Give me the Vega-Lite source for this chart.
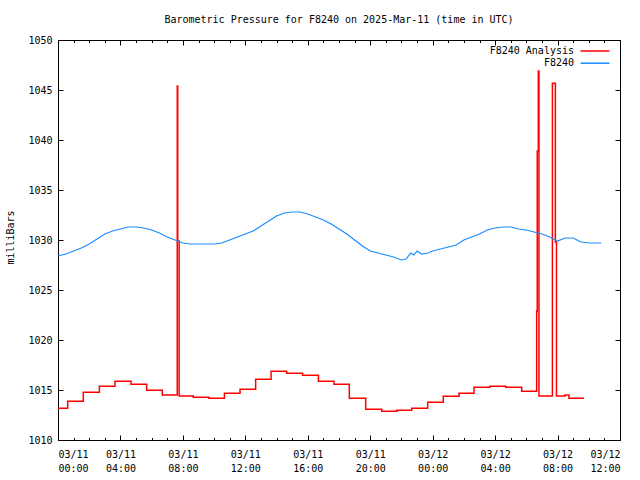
{
  "$schema": "https://vega.github.io/schema/vega-lite/v6.json",
  "width": 562,
  "height": 400,
  "autosize": {"type": "none"},
  "padding": {"left": 58, "top": 40, "right": 20, "bottom": 40},
  "background": "white",
  "title": {
    "text": "Barometric Pressure for F8240 on 2025-Mar-11 (time in UTC)",
    "font": "DejaVu Sans Mono",
    "fontSize": 10,
    "fontWeight": "normal",
    "color": "black",
    "anchor": "middle",
    "offset": 10
  },
  "config": {
    "view": {"stroke": "black", "strokeWidth": 1},
    "axis": {
      "labelFont": "DejaVu Sans Mono",
      "labelFontSize": 10,
      "labelColor": "black",
      "titleFont": "DejaVu Sans Mono",
      "titleFontSize": 10,
      "titleFontWeight": "normal",
      "titleColor": "black",
      "domainColor": "black",
      "tickColor": "black",
      "grid": false
    },
    "legend": {
      "labelFont": "DejaVu Sans Mono",
      "labelFontSize": 10,
      "labelColor": "black"
    }
  },
  "datasets": {
    "analysis": [
      {"h": 0, "p": 1013.17, "s": "F8240 Analysis"},
      {"h": 0.62, "p": 1013.87, "s": "F8240 Analysis"},
      {"h": 1.62, "p": 1014.77, "s": "F8240 Analysis"},
      {"h": 2.65, "p": 1015.37, "s": "F8240 Analysis"},
      {"h": 3.65, "p": 1015.87, "s": "F8240 Analysis"},
      {"h": 4.68, "p": 1015.57, "s": "F8240 Analysis"},
      {"h": 5.68, "p": 1014.97, "s": "F8240 Analysis"},
      {"h": 6.68, "p": 1014.5, "s": "F8240 Analysis"},
      {"h": 7.64, "p": 1045.4, "s": "F8240 Analysis"},
      {"h": 7.67, "p": 1029.9, "s": "F8240 Analysis"},
      {"h": 7.76, "p": 1014.4, "s": "F8240 Analysis"},
      {"h": 8.67, "p": 1014.27, "s": "F8240 Analysis"},
      {"h": 9.67, "p": 1014.17, "s": "F8240 Analysis"},
      {"h": 10.66, "p": 1014.67, "s": "F8240 Analysis"},
      {"h": 11.66, "p": 1015.07, "s": "F8240 Analysis"},
      {"h": 12.66, "p": 1016.07, "s": "F8240 Analysis"},
      {"h": 13.65, "p": 1016.87, "s": "F8240 Analysis"},
      {"h": 14.65, "p": 1016.67, "s": "F8240 Analysis"},
      {"h": 15.67, "p": 1016.47, "s": "F8240 Analysis"},
      {"h": 16.68, "p": 1015.87, "s": "F8240 Analysis"},
      {"h": 17.68, "p": 1015.57, "s": "F8240 Analysis"},
      {"h": 18.66, "p": 1014.17, "s": "F8240 Analysis"},
      {"h": 19.71, "p": 1013.07, "s": "F8240 Analysis"},
      {"h": 20.74, "p": 1012.87, "s": "F8240 Analysis"},
      {"h": 21.7, "p": 1012.97, "s": "F8240 Analysis"},
      {"h": 22.66, "p": 1013.17, "s": "F8240 Analysis"},
      {"h": 23.68, "p": 1013.77, "s": "F8240 Analysis"},
      {"h": 24.68, "p": 1014.37, "s": "F8240 Analysis"},
      {"h": 25.69, "p": 1014.67, "s": "F8240 Analysis"},
      {"h": 26.65, "p": 1015.27, "s": "F8240 Analysis"},
      {"h": 27.67, "p": 1015.37, "s": "F8240 Analysis"},
      {"h": 28.68, "p": 1015.27, "s": "F8240 Analysis"},
      {"h": 29.7, "p": 1014.87, "s": "F8240 Analysis"},
      {"h": 30.66, "p": 1022.9, "s": "F8240 Analysis"},
      {"h": 30.7, "p": 1038.9, "s": "F8240 Analysis"},
      {"h": 30.77, "p": 1046.9, "s": "F8240 Analysis"},
      {"h": 30.81, "p": 1014.4, "s": "F8240 Analysis"},
      {"h": 31.67, "p": 1045.67, "s": "F8240 Analysis"},
      {"h": 31.86, "p": 1029.8, "s": "F8240 Analysis"},
      {"h": 31.93, "p": 1014.4, "s": "F8240 Analysis"},
      {"h": 32.48, "p": 1014.5, "s": "F8240 Analysis"},
      {"h": 32.73, "p": 1014.17, "s": "F8240 Analysis"},
      {"h": 33.7, "p": 1014.17, "s": "F8240 Analysis"}
    ],
    "obs": [
      {"h": 0, "p": 1028.4, "s": "F8240"},
      {"h": 0.5, "p": 1028.6, "s": "F8240"},
      {"h": 1, "p": 1028.9, "s": "F8240"},
      {"h": 1.5, "p": 1029.2, "s": "F8240"},
      {"h": 2, "p": 1029.6, "s": "F8240"},
      {"h": 2.5, "p": 1030.1, "s": "F8240"},
      {"h": 3, "p": 1030.6, "s": "F8240"},
      {"h": 3.5, "p": 1030.9, "s": "F8240"},
      {"h": 4, "p": 1031.1, "s": "F8240"},
      {"h": 4.5, "p": 1031.3, "s": "F8240"},
      {"h": 5, "p": 1031.3, "s": "F8240"},
      {"h": 5.5, "p": 1031.2, "s": "F8240"},
      {"h": 6, "p": 1031.0, "s": "F8240"},
      {"h": 6.5, "p": 1030.7, "s": "F8240"},
      {"h": 7, "p": 1030.3, "s": "F8240"},
      {"h": 7.5, "p": 1030.0, "s": "F8240"},
      {"h": 8, "p": 1029.7, "s": "F8240"},
      {"h": 8.5, "p": 1029.6, "s": "F8240"},
      {"h": 9, "p": 1029.6, "s": "F8240"},
      {"h": 10, "p": 1029.6, "s": "F8240"},
      {"h": 10.5, "p": 1029.7, "s": "F8240"},
      {"h": 11, "p": 1030.0, "s": "F8240"},
      {"h": 11.5, "p": 1030.3, "s": "F8240"},
      {"h": 12, "p": 1030.6, "s": "F8240"},
      {"h": 12.5, "p": 1030.9, "s": "F8240"},
      {"h": 13, "p": 1031.4, "s": "F8240"},
      {"h": 13.5, "p": 1031.9, "s": "F8240"},
      {"h": 14, "p": 1032.4, "s": "F8240"},
      {"h": 14.5, "p": 1032.7, "s": "F8240"},
      {"h": 15, "p": 1032.8, "s": "F8240"},
      {"h": 15.5, "p": 1032.8, "s": "F8240"},
      {"h": 16, "p": 1032.6, "s": "F8240"},
      {"h": 16.5, "p": 1032.3, "s": "F8240"},
      {"h": 17, "p": 1032.0, "s": "F8240"},
      {"h": 17.5, "p": 1031.6, "s": "F8240"},
      {"h": 18, "p": 1031.1, "s": "F8240"},
      {"h": 18.5, "p": 1030.6, "s": "F8240"},
      {"h": 19, "p": 1030.0, "s": "F8240"},
      {"h": 19.5, "p": 1029.4, "s": "F8240"},
      {"h": 20, "p": 1028.9, "s": "F8240"},
      {"h": 20.5, "p": 1028.7, "s": "F8240"},
      {"h": 21, "p": 1028.5, "s": "F8240"},
      {"h": 21.5, "p": 1028.3, "s": "F8240"},
      {"h": 22, "p": 1028.0, "s": "F8240"},
      {"h": 22.3, "p": 1028.1, "s": "F8240"},
      {"h": 22.6, "p": 1028.7, "s": "F8240"},
      {"h": 22.8, "p": 1028.5, "s": "F8240"},
      {"h": 23, "p": 1028.9, "s": "F8240"},
      {"h": 23.3, "p": 1028.6, "s": "F8240"},
      {"h": 23.7, "p": 1028.7, "s": "F8240"},
      {"h": 24, "p": 1028.9, "s": "F8240"},
      {"h": 24.5, "p": 1029.1, "s": "F8240"},
      {"h": 25, "p": 1029.3, "s": "F8240"},
      {"h": 25.5, "p": 1029.5, "s": "F8240"},
      {"h": 26, "p": 1030.0, "s": "F8240"},
      {"h": 26.5, "p": 1030.3, "s": "F8240"},
      {"h": 27, "p": 1030.6, "s": "F8240"},
      {"h": 27.5, "p": 1031.0, "s": "F8240"},
      {"h": 28, "p": 1031.2, "s": "F8240"},
      {"h": 28.5, "p": 1031.3, "s": "F8240"},
      {"h": 29, "p": 1031.3, "s": "F8240"},
      {"h": 29.5, "p": 1031.1, "s": "F8240"},
      {"h": 30, "p": 1031.0, "s": "F8240"},
      {"h": 30.5, "p": 1030.8, "s": "F8240"},
      {"h": 31, "p": 1030.6, "s": "F8240"},
      {"h": 31.5, "p": 1030.3, "s": "F8240"},
      {"h": 32, "p": 1029.9, "s": "F8240"},
      {"h": 32.5, "p": 1030.2, "s": "F8240"},
      {"h": 33, "p": 1030.2, "s": "F8240"},
      {"h": 33.5, "p": 1029.8, "s": "F8240"},
      {"h": 34, "p": 1029.7, "s": "F8240"},
      {"h": 34.8, "p": 1029.7, "s": "F8240"}
    ]
  },
  "resolve": {"axis": {"x": "independent", "y": "independent"}},
  "layer": [
    {
      "data": {"name": "analysis"},
      "mark": {"type": "line", "interpolate": "step-after", "strokeWidth": 1.5},
      "encoding": {
        "x": {
          "field": "h", "type": "quantitative",
          "scale": {"domain": [0, 36], "nice": false, "zero": false},
          "axis": {
            "orient": "bottom", "title": null,
            "values": [0, 4, 8, 12, 16, 20, 24, 28, 32, 36],
            "tickSize": -5, "labelPadding": 14, "labelLineHeight": 14,
            "labelExpr": "[datum.value < 24 ? '03/11' : '03/12', (datum.value % 24 < 10 ? '0' : '') + (datum.value % 24) + ':00']"
          }
        },
        "y": {
          "field": "p", "type": "quantitative",
          "scale": {"domain": [1010, 1050], "nice": false, "zero": false},
          "axis": {
            "orient": "left", "title": "milliBars", "format": "d",
            "values": [1010, 1015, 1020, 1025, 1030, 1035, 1040, 1045, 1050],
            "tickSize": -5, "labelPadding": 11,
            "titleX": -43, "titleY": 197
          }
        },
        "color": {
          "field": "s", "type": "nominal",
          "scale": {"domain": ["F8240 Analysis", "F8240"], "range": ["#ff0000", "#1a8cff"]},
          "legend": {
            "title": null, "orient": "none", "legendX": 531, "legendY": 5,
            "symbolType": "M-3,0H3", "symbolSize": 93, "symbolStrokeWidth": 1.5,
            "labelAlign": "right", "labelOffset": -27, "rowPadding": 1.2
          }
        }
      }
    },
    {
      "data": {"name": "obs"},
      "mark": {"type": "line", "strokeWidth": 1.2},
      "encoding": {
        "x": {
          "field": "h", "type": "quantitative",
          "axis": {
            "orient": "top", "title": null, "labels": false,
            "values": [0, 4, 8, 12, 16, 20, 24, 28, 32, 36],
            "tickSize": -5
          }
        },
        "y": {
          "field": "p", "type": "quantitative",
          "axis": {
            "orient": "right", "title": null, "labels": false,
            "values": [1010, 1015, 1020, 1025, 1030, 1035, 1040, 1045, 1050],
            "tickSize": -5
          }
        },
        "color": {"field": "s", "type": "nominal"}
      }
    },
    {
      "data": {"name": "obs"},
      "mark": {"type": "line", "strokeOpacity": 0},
      "encoding": {
        "x": {
          "field": "h", "type": "quantitative",
          "axis": {
            "orient": "bottom", "title": null, "labels": false, "domain": false,
            "values": [1, 2, 3, 5, 6, 7, 9, 10, 11, 13, 14, 15, 17, 18, 19, 21, 22, 23, 25, 26, 27, 29, 30, 31, 33, 34, 35],
            "tickSize": -2.5
          }
        },
        "y": {"field": "p", "type": "quantitative", "axis": null}
      }
    },
    {
      "data": {"name": "obs"},
      "mark": {"type": "line", "strokeOpacity": 0},
      "encoding": {
        "x": {
          "field": "h", "type": "quantitative",
          "axis": {
            "orient": "top", "title": null, "labels": false, "domain": false,
            "values": [1, 2, 3, 5, 6, 7, 9, 10, 11, 13, 14, 15, 17, 18, 19, 21, 22, 23, 25, 26, 27, 29, 30, 31, 33, 34, 35],
            "tickSize": -2.5
          }
        },
        "y": {"field": "p", "type": "quantitative", "axis": null}
      }
    }
  ]
}
